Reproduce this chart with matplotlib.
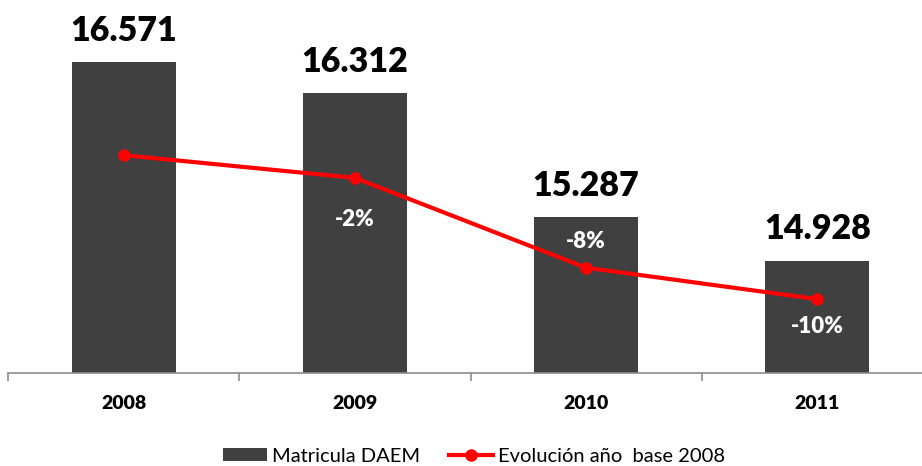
import matplotlib.pyplot as plt

plt.rcParams['font.family'] = ['Lato', 'DejaVu Sans']

# datos
years = ['2008', '2009', '2010', '2011']
matricula = [16571, 16312, 15287, 14928]
evolucion = [0.0, -1.56, -7.75, -9.91]
evol_labels = ['', '-2%', '-8%', '-10%']
# desplazamiento vertical de las etiquetas de % (pt)
evol_offsets = [0, -30, 19, -20]

bar_color = '#404040'
line_color = '#ff0000'

fig = plt.figure(figsize=(9.22, 4.66), dpi=100)
ax = fig.add_axes([8 / 922, 93 / 466, 925 / 922, 363 / 466])

x = list(range(len(years)))
ax.bar(x, matricula, width=0.45, color=bar_color, edgecolor='none',
       label='Matricula DAEM', zorder=2)
ax.set_ylim(14000, 17000)
ax.set_xlim(-0.5, 3.5)

for xi, v in zip(x, matricula):
    ax.annotate(f'{v:,}'.replace(',', '.'), (xi, v), xytext=(0, 22.5),
                textcoords='offset points', ha='center', va='center',
                fontsize=24.5, fontweight='heavy', color='black')

# ejes
for s in ['top', 'left', 'right']:
    ax.spines[s].set_visible(False)
ax.spines['bottom'].set_color('#8c8c8c')
ax.spines['bottom'].set_linewidth(1.2)
ax.set_yticks([])
ax.set_xticks([-0.5, 0.5, 1.5, 2.5, 3.5])
ax.set_xticklabels([])
ax.tick_params(axis='x', which='major', length=6, width=1.2, color='#8c8c8c')
ax.set_xticks(x, minor=True)
ax.set_xticklabels(years, minor=True, fontsize=14, fontweight='heavy')
ax.tick_params(axis='x', which='minor', length=0, pad=16)

ax2 = ax.twinx()
ax2.set_ylim(-15, 10)
ax2.plot(x, evolucion, color=line_color, linewidth=3, marker='o',
         markersize=8, label='Evolución año  base 2008', zorder=3)
ax2.set_yticks([])
for s in ax2.spines.values():
    s.set_visible(False)

for xi, v, lab, off in zip(x, evolucion, evol_labels, evol_offsets):
    if lab:
        ax2.annotate(lab, (xi, v), xytext=(0, off), textcoords='offset points',
                     ha='center', va='center', fontsize=16, fontweight='heavy',
                     color='white')

h1, l1 = ax.get_legend_handles_labels()
h2, l2 = ax2.get_legend_handles_labels()
fig.legend(h1 + h2, l1 + l2, loc='center', bbox_to_anchor=(474 / 922, 1 - 456 / 466),
           ncol=2, frameon=False, fontsize=14.5, handlelength=2.2, handleheight=0.65,
           handletextpad=0.25, columnspacing=1.4, borderaxespad=0)

fig.savefig('out.png', dpi=100)
